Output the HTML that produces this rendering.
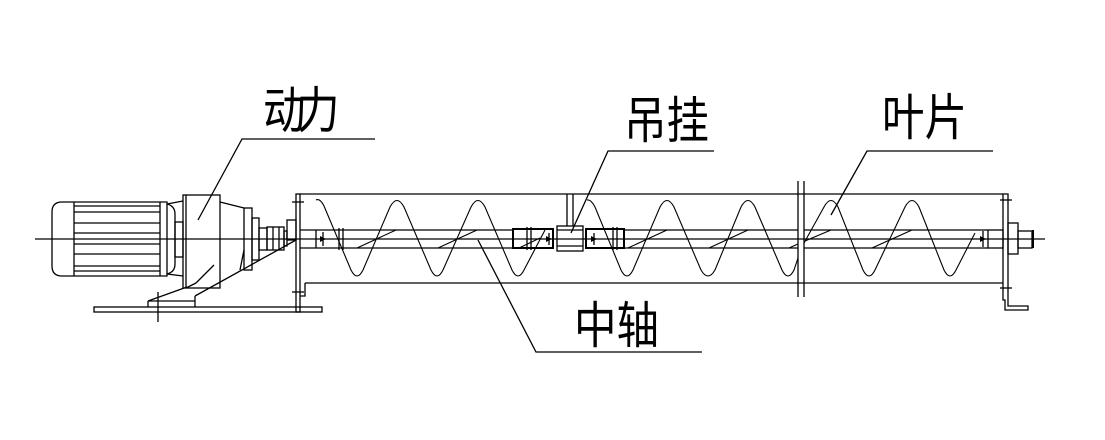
<!DOCTYPE html>
<html><head><meta charset="utf-8"><style>
html,body{margin:0;padding:0;background:#fff;}
svg{display:block}
text{font-family:"Liberation Sans","Noto Sans CJK SC","WenQuanYi Zen Hei",sans-serif;font-size:50px;fill:#000}
</style></head><body>
<svg width="1105" height="440" viewBox="0 0 1105 440" xmlns="http://www.w3.org/2000/svg">
<g stroke="#000" fill="none" stroke-width="1.3">
<!-- centerline -->
<line x1="35" y1="239" x2="1045" y2="239"/>
<!-- motor -->
<path d="M62,202 H167 V276 H62 Q52,276 52,266 V212 Q52,202 62,202 Z"/>
<line x1="74" y1="202" x2="74" y2="276"/>
<line x1="160" y1="202" x2="160" y2="276"/>
<g stroke-width="1.2">
<line x1="74" y1="206" x2="160" y2="206"/><line x1="74" y1="212" x2="160" y2="212"/>
<line x1="74" y1="223" x2="160" y2="223"/><line x1="74" y1="233" x2="160" y2="233"/>
<line x1="74" y1="244" x2="160" y2="244"/><line x1="74" y1="254" x2="160" y2="254"/>
<line x1="74" y1="266" x2="160" y2="266"/><line x1="74" y1="271" x2="160" y2="271"/>
</g>
<path d="M167,204 Q175,206 175,214 V264 Q175,272 167,274"/>
<path d="M167,204 L183,201 M167,274 L183,276"/>
<rect x="175" y="222" width="8" height="35"/>
<!-- gearbox -->
<rect x="183" y="195" width="37" height="93"/>
<line x1="186" y1="195" x2="186" y2="288"/>
<line x1="220" y1="202" x2="244" y2="208"/>
<rect x="244" y="208" width="8" height="62"/>
<path d="M244,250 L240,270 M196,283 L214,265 M186,288 L196,283"/>
<rect x="252" y="218" width="7" height="42"/>
<rect x="259" y="228" width="8" height="22"/>
<rect x="267" y="227" width="17" height="23"/>
<line x1="273" y1="227" x2="273" y2="250"/><line x1="279" y1="227" x2="279" y2="250"/>
<rect x="284" y="231" width="3" height="15"/>
<rect x="287" y="220" width="9" height="20"/>
<!-- support -->
<line x1="296" y1="240" x2="195" y2="296"/>
<line x1="187" y1="287" x2="148" y2="301"/>
<path d="M148,301 V307 M148,301 H195 M195,296 V307"/>
<rect x="94" y="307" width="228" height="5"/>
<line x1="158" y1="292" x2="158" y2="322"/>
<!-- trough -->
<rect x="296" y="194" width="4" height="118"/>
<line x1="300" y1="194" x2="1003" y2="194"/>
<line x1="305" y1="283" x2="1003" y2="283"/>
<path d="M305,283 V296 H300"/>
<line x1="292" y1="202" x2="304" y2="202"/>
<line x1="292" y1="292" x2="304" y2="292"/>
<!-- right end -->
<path d="M1003,194 V300 H1005 V310 H1028 V306 H1008 V194 Z"/>
<line x1="1000" y1="200" x2="1012" y2="200"/>
<line x1="1000" y1="288" x2="1012" y2="288"/>
<rect x="988" y="230" width="15" height="18"/>
<rect x="1008" y="223" width="10" height="31"/>
<rect x="1018" y="231" width="14" height="17"/>
<line x1="1033" y1="230" x2="1033" y2="248" stroke-width="2"/>
<line x1="983" y1="231" x2="983" y2="247"/>
<!-- flange -->
<line x1="798" y1="181" x2="798" y2="297"/>
<line x1="804" y1="181" x2="804" y2="297"/>
<!-- shaft -->
<line x1="300" y1="230" x2="513" y2="230"/><line x1="300" y1="248" x2="513" y2="248"/>
<line x1="624" y1="230" x2="798" y2="230"/><line x1="624" y1="248" x2="798" y2="248"/>
<line x1="804" y1="230" x2="988" y2="230"/><line x1="804" y1="248" x2="988" y2="248"/>
<line x1="316" y1="230" x2="316" y2="248"/>
<line x1="323" y1="232" x2="323" y2="246"/>
<line x1="339" y1="228" x2="339" y2="250"/><line x1="343" y1="228" x2="343" y2="250"/>
<!-- hanger -->
<rect x="513" y="229" width="40" height="19" stroke-width="2"/>
<rect x="586" y="229" width="38" height="19" stroke-width="2"/>
<line x1="527" y1="227" x2="527" y2="250"/><line x1="531" y1="227" x2="531" y2="250"/>
<line x1="549" y1="233" x2="549" y2="245"/><line x1="594" y1="233" x2="594" y2="245"/>
<line x1="613" y1="227" x2="613" y2="250"/><line x1="617" y1="227" x2="617" y2="250"/>
<rect x="557" y="226" width="26" height="25"/>
<line x1="557" y1="230" x2="583" y2="230"/><line x1="557" y1="246" x2="583" y2="246"/>
<line x1="567" y1="194" x2="567" y2="226"/><line x1="573" y1="194" x2="573" y2="226"/>
<!-- spirals -->
<g stroke-width="1.1">
<path d="M316,200 Q320,198 324,206 L351,270 Q357,282 363,270 L390,207 Q397,194 404,207 L431,270 Q437,282 443,270 L471,207 Q478,194 485,207 L512,270 Q518,282 524,270 L545,230"/>
<path d="M587,200 Q591,199 595,207 L621,270 Q627,282 633,270 L660,207 Q667,194 674,207 L701,270 Q708,282 715,270 L741,207 Q748,194 755,207 L782,270 Q788,282 794,270 L798,258"/>
<path d="M804,243 L824,207 Q831,194 838,207 L863,270 Q869,282 875,270 L905,207 Q912,194 919,207 L944,270 Q950,282 956,270 L975,233"/>
<path d="M357,248 L396,230 M438,248 L477,230 M519,248 L540,238 M628,248 L667,230 M709,248 L748,230 M789,248 L798,244 M805,241 L831,230 M872,248 L912,230"/>
</g>
<!-- leaders -->
<path d="M375,139 H242 L198,220"/>
<path d="M714,151 H608 L571,233"/>
<path d="M993,151 H867 L831,215"/>
<path d="M702,352 H536 L478,240"/>
</g>
<g fill="#000">
<path d="M320,236 L326,239 L320,242Z M546,236 L552,239 L546,242Z M591,236 L597,239 L591,242Z M980,236 L986,239 L980,242Z"/>
</g>
<text x="263" y="128" transform="translate(263 0) scale(0.85 1) translate(-263 0)" textLength="90">动力</text>
<text x="624" y="138" transform="translate(624 0) scale(0.85 1) translate(-624 0)">吊挂</text>
<text x="882" y="135" transform="translate(882 0) scale(0.85 1) translate(-882 0)">叶片</text>
<text x="574" y="343" transform="translate(574 0) scale(0.85 1) translate(-574 0)">中轴</text>
</svg>
</body></html>
